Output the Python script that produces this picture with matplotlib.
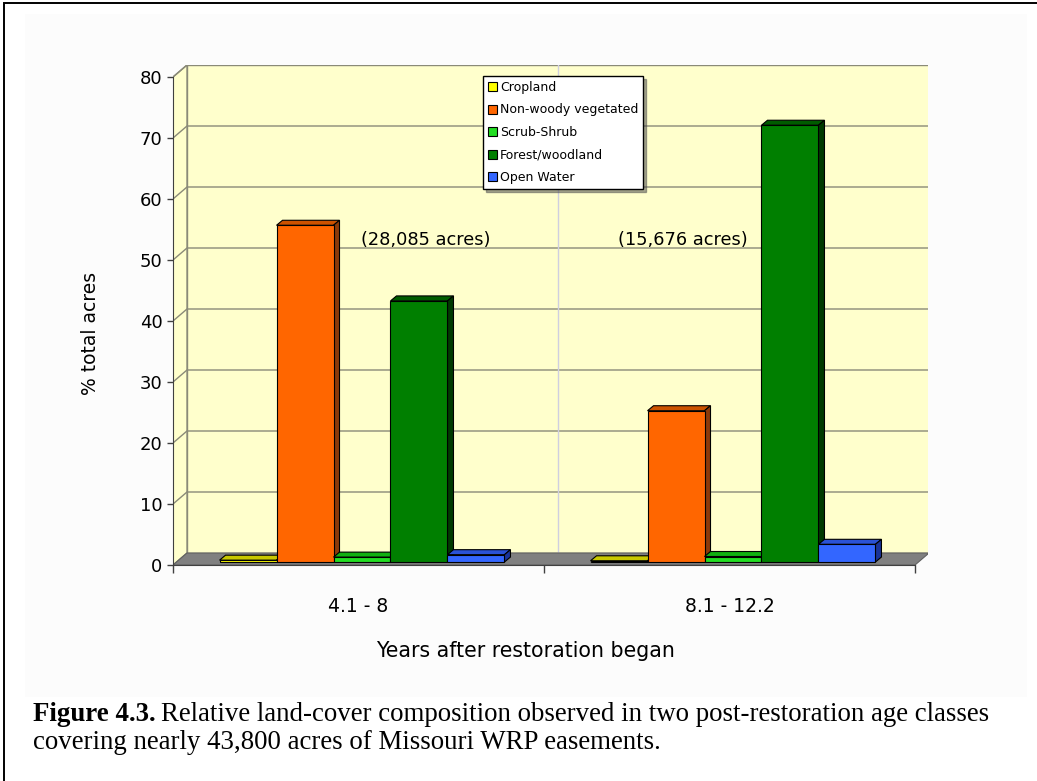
import matplotlib
matplotlib.use('Agg')
import matplotlib.pyplot as plt
from matplotlib.patches import Rectangle, Polygon, Patch

# data
age_classes = ['4.1 - 8', '8.1 - 12.2']
cover_types = ['Cropland', 'Non-woody vegetated', 'Scrub-Shrub', 'Forest/woodland', 'Open Water']
pct_young = [0.3, 55.2, 0.8, 42.8, 1.2]
pct_old = [0.2, 24.8, 0.9, 71.6, 2.9]
acre_labels = ['(28,085 acres)', '(15,676 acres)']
yticks = [0, 10, 20, 30, 40, 50, 60, 70, 80]

front_colors = ['#ffff00', '#ff6600', '#22dd22', '#007f00', '#3366ff']
top_colors = ['#c8c800', '#cc5200', '#11b011', '#005c00', '#2a52d6']
side_colors = ['#8c8c00', '#8b3a0a', '#0a800a', '#003a00', '#1a3399']

W, H = 1037, 781
fig = plt.figure(figsize=(W / 100, H / 100), dpi=100)

# outer frame and faint chart area
fig.patches.append(Rectangle((25 / W, 1 - 697 / H), (1027 - 25) / W, (697 - 14) / H,
                             transform=fig.transFigure, facecolor='#fcfcfc', edgecolor='none', zorder=-2))
fig.patches.append(Rectangle((4 / W, -0.2), 2.0, 1.2 - 3 / H, transform=fig.transFigure,
                             facecolor='none', edgecolor='black', linewidth=1.4, zorder=-1))

# axes: front axis from px 173..915 (x) and 565..77 (y)
sx = (915 - 173) / 2.0
sy = (565 - 77) / 80.0
ax_w, ax_h = 928 - 173, 565 - 65
ax = fig.add_axes([173 / W, (H - 565) / H, ax_w / W, ax_h / H])
ax.set_zorder(2)
ax.set_xlim(-0.5, -0.5 + ax_w / sx)
ax.set_ylim(0, ax_h / sy)
ax.patch.set_visible(False)

# depth of walls and bars (pixels -> data units)
wdx, wdy = 14 / sx, 12 / sy
bdx, bdy = 6 / sx, 5 / sy
bx0, by0 = 3.5 / sx, 3 / sy

x_lo, x_hi, ymax = -0.5, 1.5, 80
wall_edge = '#8a8a78'

# back wall
ax.add_patch(Rectangle((x_lo + wdx, wdy), x_hi - x_lo, ymax, facecolor='#ffffcc',
                       edgecolor=wall_edge, linewidth=1, zorder=1))
# left wall
ax.add_patch(Polygon([(x_lo, 0), (x_lo + wdx, wdy), (x_lo + wdx, ymax + wdy), (x_lo, ymax)],
                     closed=True, facecolor='#ffffcc', edgecolor=wall_edge, linewidth=1, zorder=1))
# gridlines on walls
for v in yticks[1:-1]:
    ax.plot([x_lo, x_lo + wdx, x_hi + wdx], [v, v + wdy, v + wdy], color=wall_edge, lw=1, zorder=2)
ax.plot([x_lo, x_lo + wdx], [ymax, ymax + wdy], color=wall_edge, lw=1, zorder=2)
ax.plot([0.5 + wdx, 0.5 + wdx], [wdy, ymax + wdy], color='#cfcfe0', lw=1, zorder=2)
# floor
ax.add_patch(Polygon([(x_lo, 0), (x_hi, 0), (x_hi + wdx, wdy), (x_lo + wdx, wdy)],
                     closed=True, facecolor='#808080', edgecolor='#606060', linewidth=0.8, zorder=3))

# bars
bw = 0.1536
for gi, vals in enumerate([pct_young, pct_old]):
    for j, v in enumerate(vals):
        xc = gi + (j - 2) * bw + bx0
        x0, x1 = xc - bw / 2, xc + bw / 2
        z = 4 + j * 0.1
        ax.bar(xc, v, width=bw, bottom=by0, color=front_colors[j], edgecolor='black',
               linewidth=0.8, zorder=z + 0.02)
        top = by0 + v
        ax.add_patch(Polygon([(x0, top), (x0 + bdx, top + bdy), (x1 + bdx, top + bdy), (x1, top)],
                             closed=True, facecolor=top_colors[j], edgecolor='black', linewidth=0.8, zorder=z))
        ax.add_patch(Polygon([(x1, by0), (x1 + bdx, by0 + bdy), (x1 + bdx, top + bdy), (x1, top)],
                             closed=True, facecolor=side_colors[j], edgecolor='black', linewidth=0.8, zorder=z))

# acreage notes
ax.text(0.18, 53.3, acre_labels[0], ha='center', va='center', fontsize=12.8, zorder=10)
ax.text(0.875, 53.3, acre_labels[1], ha='center', va='center', fontsize=12.8, zorder=10)

# axes lines and ticks
for s in ['top', 'right']:
    ax.spines[s].set_visible(False)
ax.spines['left'].set_bounds(0, 80)
ax.spines['bottom'].set_bounds(-0.5, 1.5)
ax.spines['left'].set_color('#404040')
ax.spines['bottom'].set_color('#404040')
ax.spines['left'].set_zorder(6)
ax.spines['bottom'].set_zorder(6)
ax.set_yticks(yticks)
ax.tick_params(axis='y', length=4.5, width=1, color='#404040', pad=3, labelsize=13)
ax.set_xticks([0, 1])
ax.set_xticklabels(age_classes)
ax.set_xticks([-0.5, 0.5, 1.5], minor=True)
ax.tick_params(axis='x', which='major', length=0, pad=23, labelsize=13.5)
ax.tick_params(axis='x', which='minor', length=5.5, width=1, color='#404040')
ax.set_ylabel('% total acres', fontsize=13.5)
ax.set_xlabel('Years after restoration began', fontsize=14.8)
ax.yaxis.set_label_coords((100 - 173) / ax_w, (565 - 333) / ax_h)
ax.xaxis.set_label_coords((525 - 173) / ax_w, (565 - 641) / ax_h)

# legend
handles = [Patch(facecolor=c, edgecolor='black', linewidth=0.8) for c in front_colors]
leg = fig.legend(handles, cover_types, loc='upper left', bbox_to_anchor=(483 / W, 1 - 76 / H),
                 fontsize=9, frameon=True, fancybox=False, edgecolor='black', framealpha=1,
                 handlelength=0.7, handleheight=0.7, handletextpad=0.25, labelspacing=0.76,
                 borderpad=0.4, borderaxespad=0, shadow=True)
leg.set_zorder(20)

# caption with bold lead-in
cap_font = 'Liberation Serif'
cap_size = 19.4
y1 = 1 - 721 / H
y2 = 1 - 749 / H
t_bold = fig.text(33 / W, y1, 'Figure 4.3.', fontsize=cap_size, fontweight='bold', family=cap_font, va='baseline')
fig.canvas.draw()
bb = t_bold.get_window_extent(renderer=fig.canvas.get_renderer())
fig.text(bb.x1 / W + 5 / W, y1,
         'Relative land-cover composition observed in two post-restoration age classes',
         fontsize=cap_size, family=cap_font, va='baseline')
fig.text(33 / W, y2, 'covering nearly 43,800 acres of Missouri WRP easements.',
         fontsize=cap_size, family=cap_font, va='baseline')

fig.savefig('out.png', dpi=100)
